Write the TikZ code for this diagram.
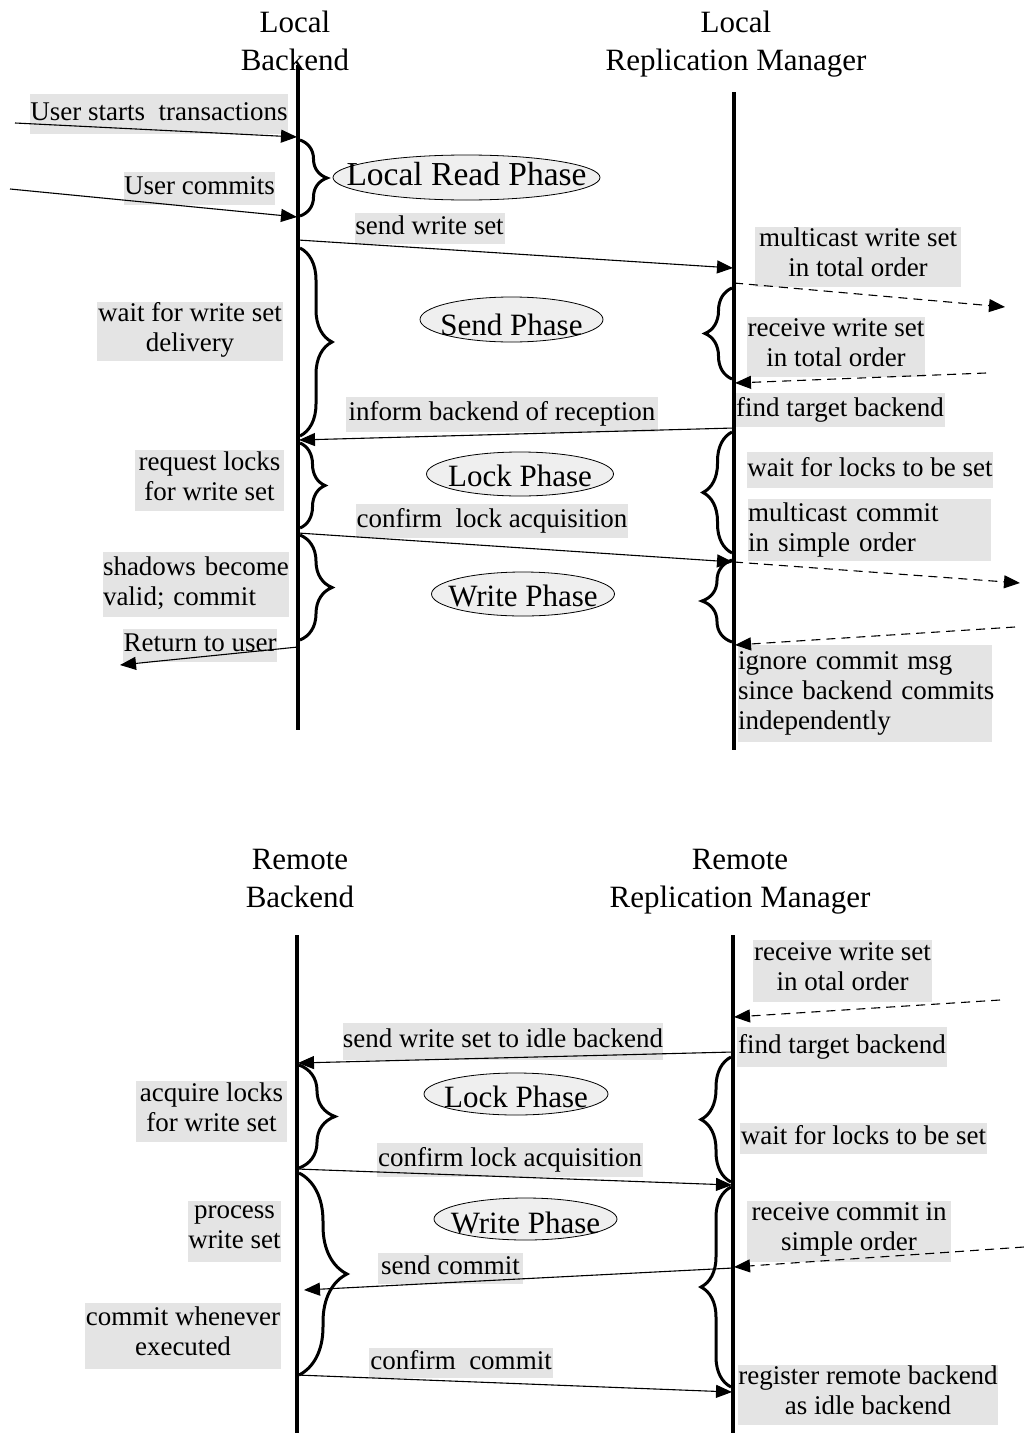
\documentclass[tikz,border=0pt]{standalone}
\usepackage{fontspec}
\setmainfont{Liberation Serif}
\usetikzlibrary{arrows.meta,decorations.pathreplacing,shapes.geometric}
\definecolor{lblgray}{RGB}{228,228,228}
\definecolor{phgray}{RGB}{239,239,239}
\begin{document}
\begin{tikzpicture}[x=1pt,y=-1pt,
  head/.style={font=\fontsize{31}{38}\selectfont, align=center, inner sep=0pt},
  lbl/.style={fill=lblgray, inner sep=0pt, align=center,
    font=\fontsize{27}{30}\selectfont,
    execute at begin node=\strut, execute at end node=\strut},
  lbll/.style={lbl, align=left},
  box/.style 2 args={minimum width=#1, minimum height=#2},
  tbox/.style 2 args={text width=#1, minimum height=#2},
  phase/.style={ellipse, draw=black, line width=0.8pt, fill=phgray, inner sep=0pt},
  ptext/.style={inner sep=0pt, font=\fontsize{31}{36}\selectfont, text depth=0pt, text height=#1},
  life/.style={line width=3.3pt},
  msg/.style={line width=1.1pt, -{Triangle[length=16pt,width=13pt]}},
  dmsg/.style={msg, dash pattern=on 9pt off 6pt},
  brc/.style={line width=3pt, decorate, decoration={brace, amplitude=#1}},
]
\fill[white] (0,0) rectangle (1024,1437);
\useasboundingbox (0,0) rectangle (1024,1437);

% ---------------- local side ----------------
\node[head] (hLB) at (295,41) {Local\\Backend};
\node[head] (hLR) at (736,44) {Local\\Replication Manager};

\node[lbl, box={258pt}{40pt}] (tUS) at (159,114) {User starts\ \ transactions};
\node[lbl, box={151pt}{33pt}] (tUC) at (199.5,188.5) {User commits};
\node[lbl, box={150pt}{31pt}] (tSW) at (429.5,228.5) {send write set};
\node[lbl, box={206pt}{60pt}] (tMW) at (858,257) {multicast write set\\in total order};
\node[lbl, box={178pt}{60pt}] (tRW) at (836,347) {receive write set\\in total order};
\node[lbl, box={210pt}{34pt}] (tFT) at (840,410) {find target backend};
\node[lbl, box={312pt}{35pt}] (tIB) at (502,414.5) {inform backend of reception};
\node[lbl, box={186pt}{57pt}] (tWD) at (190,331.5) {wait for write set\\delivery};
\node[lbl, box={149pt}{61pt}] (tRL) at (209.5,480.5) {request locks\\for write set};
\node[lbl, box={272pt}{34pt}] (tCL) at (492,521) {confirm\ \ lock acquisition};
\node[lbl, box={246pt}{36pt}] (tWL) at (870,470) {wait for locks to be set};
\node[lbll, tbox={243pt}{62pt}] (tMC) at (869.5,530)
  {\mbox{multicast commit}\\\mbox{in simple order}};
\node[lbll, tbox={186pt}{65pt}] (tSB) at (196,584.5)
  {\mbox{shadows become}\\\mbox{valid; commit}};
\node[lbl, box={154pt}{33pt}] (tRU) at (200,645.5) {Return to user};
\node[lbll, tbox={254pt}{97pt}] (tIC) at (865,693.5)
  {\mbox{ignore commit msg}\\\mbox{since backend commits}\\\mbox{independently}};

\node[phase, minimum width=267pt, minimum height=45pt,
  label={[ptext=15pt, font=\fontsize{33.5}{38}\selectfont]center:Local Read Phase}] (pLR) at (466.5,177.5) {};
\node[phase, minimum width=183pt, minimum height=45pt,
  label={[ptext=31pt]center:Send Phase}] (pSP) at (511.5,319.5) {};
\node[phase, minimum width=187pt, minimum height=44pt,
  label={[ptext=24pt]center:Lock Phase}] (pLP) at (520,474) {};
\node[phase, minimum width=183pt, minimum height=44pt,
  label={[ptext=24pt]center:Write Phase}] (pWP) at (523,594) {};

% lifelines
\coordinate (LBtop) at (298,65);  \coordinate (LBbot) at (298,730);
\coordinate (LRtop) at (734,92);  \coordinate (LRbot) at (734,750);
\draw[life] (LBtop) -- (LBbot);
\draw[life] (LRtop) -- (LRbot);

% phase braces
\coordinate (lb1a) at (300,140); \coordinate (lb1b) at (300,216);
\coordinate (lb2a) at (300,248); \coordinate (lb2b) at (300,436);
\coordinate (lb3a) at (300,443); \coordinate (lb3b) at (300,528);
\coordinate (lb4a) at (300,535); \coordinate (lb4b) at (300,640);
\coordinate (rb1a) at (732,379); \coordinate (rb1b) at (732,288);
\coordinate (rb2a) at (732,553); \coordinate (rb2b) at (732,432);
\coordinate (rb3a) at (732,642); \coordinate (rb3b) at (732,560);
\draw[brc=27pt] (lb1a) -- (lb1b);
\draw[brc=32pt] (lb2a) -- (lb2b);
\draw[brc=25pt] (lb3a) -- (lb3b);
\draw[brc=32pt] (lb4a) -- (lb4b);
\draw[brc=27pt] (rb1a) -- (rb1b);
\draw[brc=29pt] (rb2a) -- (rb2b);
\draw[brc=30pt] (rb3a) -- (rb3b);

% messages
\coordinate (us1) at (15,123);   \coordinate (us2) at (297,137);
\coordinate (uc1) at (10,189);   \coordinate (uc2) at (297,217);
\coordinate (sw1) at (298,240);  \coordinate (sw2) at (733,268);
\coordinate (mw1) at (734,283);  \coordinate (mw2) at (1005,307);
\coordinate (rw1) at (986,373);  \coordinate (rw2) at (735,383);
\coordinate (ib1) at (734,428);  \coordinate (ib2) at (299,440);
\coordinate (cl1) at (298,533);  \coordinate (cl2) at (733,562);
\coordinate (mc1) at (734,562);  \coordinate (mc2) at (1020,583);
\coordinate (ic1) at (1015,627); \coordinate (ic2) at (735,645);
\coordinate (ru1) at (298,647);  \coordinate (ru2) at (120,665);
\draw[msg] (us1) -- (us2);
\draw[msg] (uc1) -- (uc2);
\draw[msg] (sw1) -- (sw2);
\draw[dmsg] (mw1) -- (mw2);
\draw[dmsg] (rw1) -- (rw2);
\draw[msg] (ib1) -- (ib2);
\draw[msg] (cl1) -- (cl2);
\draw[dmsg] (mc1) -- (mc2);
\draw[dmsg] (ic1) -- (ic2);
\draw[msg] (ru1) -- (ru2);

% ---------------- remote side ----------------
\node[head] (hRB) at (300,878.5) {Remote\\Backend};
\node[head] (hRR) at (740,882) {Remote\\Replication Manager};

\node[lbl, box={179pt}{62pt}] (bRW) at (842.5,971) {receive write set\\in otal order};
\node[lbl, box={210pt}{40pt}] (bFT) at (842,1047) {find target backend};
\node[lbl, box={320pt}{37pt}] (bSI) at (503,1041.5) {send write set to idle backend};
\node[lbl, box={247pt}{31pt}] (bWL) at (863.5,1138.5) {wait for locks to be set};
\node[lbl, box={151pt}{61pt}] (bAL) at (211.5,1111.5) {acquire locks\\for write set};
\node[lbl, box={266pt}{34pt}] (bCL) at (510,1160) {confirm lock acquisition};
\node[lbl, box={93pt}{61pt}] (bPW) at (234.5,1231.5) {process\\write set};
\node[lbl, box={196pt}{66pt}] (bCW) at (183,1336) {commit whenever\\executed};
\node[lbl, box={145pt}{31pt}] (bSC) at (450.5,1268) {send commit};
\node[lbl, box={204pt}{61pt}] (bRC) at (849,1231.5) {receive commit in\\simple order};
\node[lbl, box={184pt}{30pt}] (bCC) at (461,1363) {confirm\ \ commit};
\node[lbl, box={260pt}{60pt}] (bRR) at (868,1395) {register remote backend\\as idle backend};

\node[phase, minimum width=184pt, minimum height=42pt,
  label={[ptext=26pt]center:Lock Phase}] (bLP) at (516,1094) {};
\node[phase, minimum width=183pt, minimum height=42pt,
  label={[ptext=28pt]center:Write Phase}] (bWP) at (525.5,1219) {};

% lifelines
\coordinate (RBtop) at (297,935);  \coordinate (RBbot) at (297,1433);
\coordinate (RRtop) at (733,935);  \coordinate (RRbot) at (733,1433);
\draw[life] (RBtop) -- (RBbot);
\draw[life] (RRtop) -- (RRbot);

% phase braces
\coordinate (lb5a) at (299,1065); \coordinate (lb5b) at (299,1168);
\coordinate (lb6a) at (299,1173); \coordinate (lb6b) at (299,1375);
\coordinate (rb4a) at (731,1182); \coordinate (rb4b) at (731,1057);
\coordinate (rb5a) at (731,1387); \coordinate (rb5b) at (731,1187);
\draw[brc=36pt] (lb5a) -- (lb5b);
\draw[brc=48pt] (lb6a) -- (lb6b);
\draw[brc=30pt] (rb4a) -- (rb4b);
\draw[brc=30pt] (rb5a) -- (rb5b);

% messages
\coordinate (brw1) at (1000,1000); \coordinate (brw2) at (734,1017);
\coordinate (bsi1) at (733,1052);  \coordinate (bsi2) at (298,1063);
\coordinate (bcl1) at (297,1169);  \coordinate (bcl2) at (732,1185);
\coordinate (bsc1) at (733,1268);  \coordinate (bsc2) at (304,1290);
\coordinate (brc1) at (1024,1247); \coordinate (brc2) at (734,1267);
\coordinate (bcc1) at (297,1375);  \coordinate (bcc2) at (732,1392);
\draw[dmsg] (brw1) -- (brw2);
\draw[msg] (bsi1) -- (bsi2);
\draw[msg] (bcl1) -- (bcl2);
\draw[msg] (bsc1) -- (bsc2);
\draw[dmsg] (brc1) -- (brc2);
\draw[msg] (bcc1) -- (bcc2);
\end{tikzpicture}
\end{document}
